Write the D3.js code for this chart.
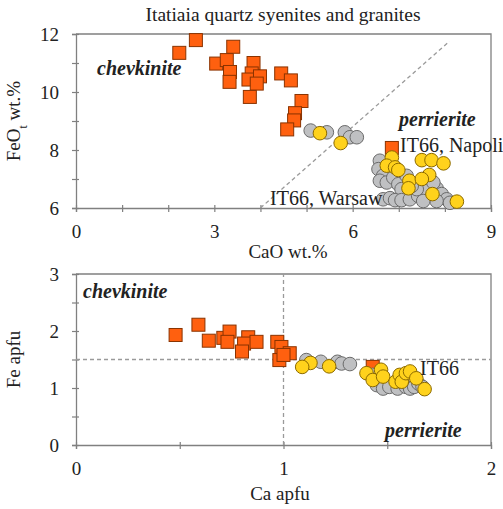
<!DOCTYPE html>
<html>
<head>
<meta charset="utf-8">
<script src="https://cdn.jsdelivr.net/npm/d3@7"></script>
<style>
  body { margin: 0; background: #fff; }
  svg text { font-family: "Liberation Serif", "Times New Roman", serif; fill: #222; }
</style>
</head>
<body>
<div id="chart"></div>
<script>
// ---- data ----
// top panel: CaO wt.% vs FeOt wt.%
var topSquares = [[2.24,11.35],[2.60,11.79],[3.41,11.56],[3.04,10.98],[3.27,11.10],[3.34,10.69],
    [3.33,10.35],[3.85,11.0],[3.81,10.64],[3.74,10.43],[3.99,10.54],[3.92,10.29],[3.77,9.83],
    [4.45,10.64],[4.66,10.40],[4.89,9.69],[4.75,9.27],[4.73,9.02],[4.58,8.71],[6.85,8.07]];
var topGray = [[5.09,8.67],[5.44,8.61],[5.83,8.61],[5.94,8.44],[6.09,8.44],
    [6.59,7.63],[6.56,7.34],[6.66,7.11],[6.59,6.94],[6.74,6.88],[6.88,7.05],[6.99,6.82],[7.06,6.65],
    [6.66,6.30],[6.81,6.34],[6.92,6.27],[7.06,6.27],[7.24,6.30],[7.42,6.42],[7.61,6.59],[7.82,6.68],
    [7.93,6.48],[8.04,6.30],[7.82,6.24],[7.53,6.24],[7.39,6.65],[7.17,7.11],[7.28,6.76],[7.75,6.88],[8.11,6.18]];
var topYellow = [[5.29,8.58],[5.74,8.24],[6.85,7.74],[6.74,7.46],[6.92,7.40],[6.99,7.31],
    [7.50,7.65],[7.71,7.65],[7.97,7.54],[7.66,7.14],[7.23,6.94],[7.50,7.00],[7.21,6.68],[7.73,6.48],[8.26,6.22]];
var topDiag = [[4.0,6.0],[8.1,11.75]];

// bottom panel: Ca apfu vs Fe apfu
var botSquares = [[0.48,1.93],[0.59,2.11],[0.64,1.83],[0.71,1.88],[0.74,1.99],[0.73,1.81],
    [0.83,1.89],[0.81,1.78],[0.80,1.64],[0.87,1.81],[0.97,1.81],[0.99,1.72],[1.03,1.61],
    [0.98,1.49],[1.00,1.58],[1.43,1.37]];
var botGray = [[1.11,1.49],[1.18,1.46],[1.26,1.46],[1.28,1.43],[1.32,1.42],
    [1.45,1.05],[1.48,0.99],[1.51,1.02],[1.55,0.99],[1.59,1.02],[1.61,0.99],[1.63,1.02],
    [1.65,1.08],[1.67,1.02],[1.43,1.23]];
var botYellow = [[1.13,1.44],[1.09,1.37],[1.22,1.38],[1.40,1.26],[1.43,1.14],[1.47,1.32],
    [1.48,1.20],[1.54,1.11],[1.56,1.23],[1.57,1.11],[1.59,1.26],[1.61,1.29],[1.64,1.17],[1.68,0.98]];

var topXTicks = [0,1,2,3,4,5,6,7,8,9], topXLabels = [0,3,6,9];
var topYTicks = [6,7,8,9,10,11,12], topYLabels = [6,8,10,12];
var botXTicks = [0,0.5,1,1.5,2], botXLabels = [0,1,2];
var botYTicks = [0,0.5,1,1.5,2,2.5,3], botYLabels = [0,1,2,3];

var W = 503, H = 509;
var fs = 19;
var axisCol = "#808080";

var svg = d3.select("#chart").append("svg").attr("width", W).attr("height", H);

function panel(o) {
    var x = d3.scaleLinear().domain(o.xd).range([76, 491]);
    var y = d3.scaleLinear().domain(o.yd).range([o.bottom, o.top]);
    var g = svg.append("g");

    // frame (top and right)
    g.append("path")
        .attr("d", "M" + x(o.xd[0]) + "," + y(o.yd[1]) + "H" + x(o.xd[1]) + "V" + y(o.yd[0]))
        .attr("fill", "none").attr("stroke", axisCol).attr("stroke-width", 1.3);

    var xAxis = g.append("g").attr("transform", "translate(0," + o.bottom + ")")
        .call(d3.axisBottom(x).tickValues(o.xt).tickSize(4).tickPadding(13)
            .tickFormat(function(d) { return o.xl.indexOf(d) >= 0 ? d : ""; }));
    var yAxis = g.append("g").attr("transform", "translate(76,0)")
        .call(d3.axisLeft(y).tickValues(o.yt).tickSize(4).tickPadding(13)
            .tickFormat(function(d) { return o.yl.indexOf(d) >= 0 ? d : ""; }));
    [xAxis, yAxis].forEach(function(a) {
        a.select(".domain").attr("stroke", axisCol).attr("stroke-width", 1.3);
        a.selectAll(".tick line").attr("stroke", axisCol).attr("stroke-width", 1.2);
        a.selectAll("text").attr("font-size", fs + "px").attr("fill", "#222")
            .style("font-family", "Liberation Serif, serif");
    });
    xAxis.selectAll(".tick line").attr("y1", -3);
    yAxis.selectAll(".tick line").attr("x1", 3);

    // dashed guide lines
    o.guides.forEach(function(l) {
        g.append("line")
            .attr("x1", x(l[0][0])).attr("y1", y(l[0][1]))
            .attr("x2", x(l[1][0])).attr("y2", y(l[1][1]))
            .attr("stroke", "#9a9a9a").attr("stroke-width", 1.3)
            .attr("stroke-dasharray", "4,3");
    });

    // squares
    var s = 13;
    g.append("g").selectAll("rect").data(o.sq).enter().append("rect")
        .attr("x", function(d) { return x(d[0]) - s / 2; })
        .attr("y", function(d) { return y(d[1]) - s / 2; })
        .attr("width", s).attr("height", s)
        .attr("fill", "#ff600f").attr("stroke", "#8a3300").attr("stroke-width", 1);
    // gray circles
    g.append("g").selectAll("circle").data(o.gr).enter().append("circle")
        .attr("cx", function(d) { return x(d[0]); })
        .attr("cy", function(d) { return y(d[1]); })
        .attr("r", 6.8)
        .attr("fill", "#bfc0c2").attr("stroke", "#6a6a6a").attr("stroke-width", 1);
    // yellow circles
    g.append("g").selectAll("circle").data(o.ye).enter().append("circle")
        .attr("cx", function(d) { return x(d[0]); })
        .attr("cy", function(d) { return y(d[1]); })
        .attr("r", 6.8)
        .attr("fill", "#ffd21c").attr("stroke", "#8c6a00").attr("stroke-width", 1);

    // axis titles
    g.append("text").attr("x", o.xlabX).attr("y", o.xlabY)
        .attr("text-anchor", "middle").attr("font-size", fs + "px").text(o.xlab);
    var yt = g.append("text")
        .attr("transform", "translate(20," + (o.top + o.bottom) / 2 + ") rotate(-90)")
        .attr("text-anchor", "middle").attr("font-size", fs + "px");
    o.ylab.forEach(function(p) {
        var t = yt.append("tspan").text(p[0]);
        if (p[1]) t.attr("baseline-shift", "sub").attr("font-size", "12px");
    });

    // annotations
    o.notes.forEach(function(n) {
        g.append("text").attr("x", n.x).attr("y", n.y)
            .attr("font-size", "20px")
            .attr("font-style", n.em ? "italic" : "normal")
            .attr("font-weight", n.em ? "bold" : "normal")
            .text(n.t);
    });
}

// title
svg.append("text").attr("x", 283).attr("y", 21).attr("text-anchor", "middle")
    .attr("font-size", "19.5px").text("Itatiaia quartz syenites and granites");

panel({
    xd: [0, 9], yd: [6, 12], top: 34, bottom: 208,
    xt: topXTicks, xl: topXLabels, yt: topYTicks, yl: topYLabels,
    sq: topSquares, gr: topGray, ye: topYellow,
    guides: [topDiag],
    xlab: "CaO wt.%", xlabX: 288, xlabY: 258,
    ylab: [["FeO"], ["t", true], [" wt.%"]],
    notes: [
        {t: "chevkinite", x: 97, y: 75, em: true},
        {t: "perrierite", x: 399, y: 126, em: true},
        {t: "IT66, Napoli", x: 400, y: 152},
        {t: "IT66, Warsaw", x: 270, y: 205}
    ]
});

panel({
    xd: [0, 2], yd: [0, 3], top: 274, bottom: 445,
    xt: botXTicks, xl: botXLabels, yt: botYTicks, yl: botYLabels,
    sq: botSquares, gr: botGray, ye: botYellow,
    guides: [[[0, 1.5], [2, 1.5]], [[1, 0], [1, 3]]],
    xlab: "Ca apfu", xlabX: 280, xlabY: 500,
    ylab: [["Fe apfu"]],
    notes: [
        {t: "chevkinite", x: 83, y: 298, em: true},
        {t: "perrierite", x: 385, y: 437, em: true},
        {t: "IT66", x: 420, y: 375}
    ]
});
</script>
</body>
</html>
